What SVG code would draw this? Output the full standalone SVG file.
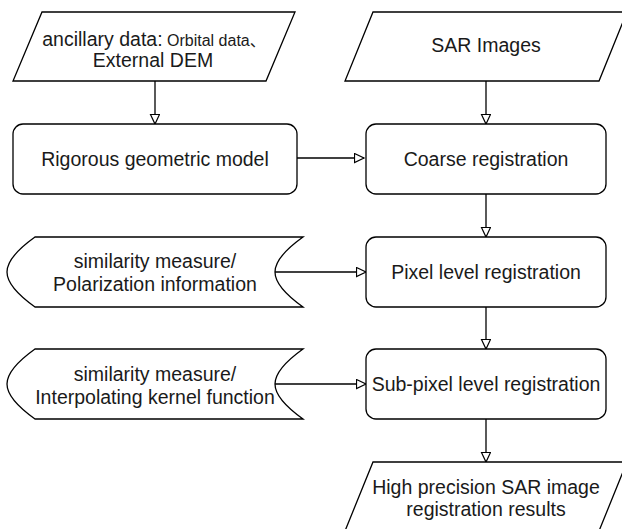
<svg xmlns="http://www.w3.org/2000/svg" width="622" height="529" viewBox="0 0 622 529">
<defs>
<marker id="arr" markerUnits="userSpaceOnUse" markerWidth="12" markerHeight="11" refX="10.5" refY="5" orient="auto">
<path d="M1,0.5 L10.5,5 L1,9.5 Z" fill="#fff" stroke="#000" stroke-width="1.2"/>
</marker>
</defs>
<style>
.s{fill:#fff;stroke:#000;stroke-width:1.3}
.t{font-family:"Liberation Sans","Noto Sans CJK SC",sans-serif;font-size:19.5px;fill:#1a1a1a;text-anchor:middle}
.c{fill:none;stroke:#000;stroke-width:1.3;marker-end:url(#arr)}
</style>
<rect width="622" height="529" fill="#fff"/>
<g id="connectors">
<path class="c" d="M155,81 V124"/>
<path class="c" d="M486,81 V124"/>
<path class="c" d="M297,158 H364"/>
<path class="c" d="M486,194 V237"/>
<path class="c" d="M275,272 H366"/>
<path class="c" d="M486,307 V349"/>
<path class="c" d="M275,384 H366"/>
<path class="c" d="M486,419 V462"/>
</g>
<g id="ancillary">
<path class="s" d="M42,12 H295 L266,81 H13 Z"/>
<text class="t" x="154" y="46"><tspan>ancillary data:</tspan><tspan font-size="16"> Orbital data、</tspan></text>
<text class="t" x="153" y="67" font-size="16">External DEM</text>
</g>
<g id="sar">
<path class="s" d="M373,12 H627 L599,81 H345 Z"/>
<text class="t" x="486" y="52">SAR Images</text>
</g>
<g id="rigorous">
<rect class="s" x="13" y="124" width="284" height="70" rx="10"/>
<text class="t" x="155" y="166">Rigorous geometric model</text>
</g>
<g id="coarse">
<rect class="s" x="366" y="124" width="240" height="70" rx="10"/>
<text class="t" x="486" y="166">Coarse registration</text>
</g>
<g id="sim1">
<path class="s" d="M35,237 H303 C289,247 275,259 275,272 C275,285 289,297 303,307 H35 C21,297 7,285 7,272 C7,259 21,247 35,237 Z"/>
<text class="t" x="155" y="268">similarity measure/</text>
<text class="t" x="155" y="291">Polarization information</text>
</g>
<g id="pixel">
<rect class="s" x="366" y="237" width="240" height="70" rx="10"/>
<text class="t" x="486" y="279">Pixel level registration</text>
</g>
<g id="sim2">
<path class="s" d="M35,349 H303 C289,359 275,371 275,384 C275,397 289,409 303,419 H35 C21,409 7,397 7,384 C7,371 21,359 35,349 Z"/>
<text class="t" x="155" y="381">similarity measure/</text>
<text class="t" x="155" y="404" font-size="20.5">Interpolating kernel function</text>
</g>
<g id="subpixel">
<rect class="s" x="366" y="349" width="240" height="70" rx="10"/>
<text class="t" x="486" y="391" font-size="18.8">Sub-pixel level registration</text>
</g>
<g id="result">
<path class="s" d="M373,462 H627 L599,531 H345 Z"/>
<text class="t" x="486" y="494">High precision SAR image</text>
<text class="t" x="486" y="516">registration results</text>
</g>
</svg>
